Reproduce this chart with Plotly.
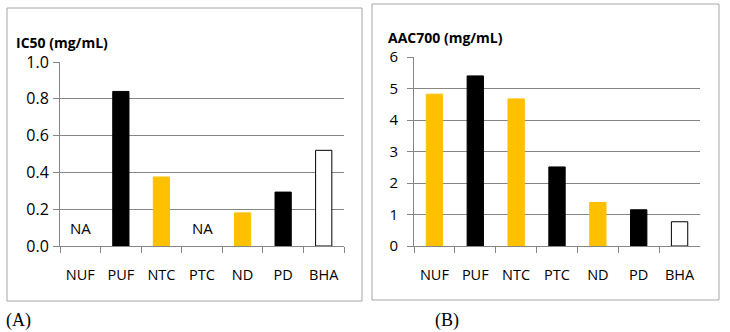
import plotly.graph_objects as go

categories = ["NUF", "PUF", "NTC", "PTC", "ND", "PD", "BHA"]
ic50_values = [None, 0.84, 0.375, None, 0.18, 0.293, 0.52]
ic50_na = ["NUF", "PTC"]
aac700_values = [4.82, 5.40, 4.67, 2.51, 1.38, 1.15, 0.77]
ic50_ticks = [0.0, 0.2, 0.4, 0.6, 0.8, 1.0]
aac_ticks = [0, 1, 2, 3, 4, 5, 6]

YEL = "#FFC000"
BLK = "#000000"
WHT = "#FFFFFF"
colors_a = [YEL, BLK, YEL, BLK, YEL, BLK, WHT]
colors_b = [YEL, BLK, YEL, BLK, YEL, BLK, WHT]
line_a = [c if c != WHT else BLK for c in colors_a]
line_b = [c if c != WHT else BLK for c in colors_b]

FONT = "Open Sans"
GRID = "#868686"

fig = go.Figure()
fig.add_trace(go.Bar(x=categories, y=ic50_values, marker=dict(color=colors_a, line=dict(color=line_a, width=1)),
                     xaxis="x", yaxis="y", showlegend=False))
fig.add_trace(go.Bar(x=categories, y=aac700_values, marker=dict(color=colors_b, line=dict(color=line_b, width=1)),
                     xaxis="x2", yaxis="y2", showlegend=False))

W, H = 730, 332
def px(x): return x / W
def py(y): return 1 - y / H

xfont = dict(tickfont=dict(family=FONT, size=14.5, color="#000"), automargin=False)
yfont = dict(tickfont=dict(family=FONT, size=16, color="#000"), automargin=False)
yfont2 = dict(tickfont=dict(family=FONT, size=15, color="#000"), automargin=False)
fig.update_layout(
    template="none",
    width=W, height=H, margin=dict(l=0, r=0, t=0, b=0),
    paper_bgcolor="white", plot_bgcolor="white", bargap=0.6,
    xaxis=dict(domain=[px(60), px(344)], anchor="y", type="category", tickson="boundaries",
               ticks="outside", ticklen=6, tickcolor=GRID, showline=True, linecolor=GRID,
               showgrid=False, ticklabelstandoff=16, **xfont),
    yaxis=dict(domain=[py(246), py(62)], anchor="x", range=[0, 1.0], tickvals=ic50_ticks,
               ticktext=[f"{v:.1f}" for v in ic50_ticks], ticks="outside", ticklen=6, tickcolor=GRID,
               showgrid=True, gridcolor=GRID, gridwidth=1, showline=True, linecolor=GRID,
               zeroline=False, ticklabelstandoff=1, **yfont),
    xaxis2=dict(domain=[px(414), px(700)], anchor="y2", type="category", tickson="boundaries",
                ticks="outside", ticklen=6, tickcolor=GRID, showline=True, linecolor=GRID,
                showgrid=False, ticklabelstandoff=16, **xfont),
    yaxis2=dict(domain=[py(246), py(57)], anchor="x2", range=[0, 6], tickvals=aac_ticks,
                ticks="outside", ticklen=6, tickcolor=GRID, showgrid=True, gridcolor=GRID,
                gridwidth=1, showline=True, linecolor=GRID, zeroline=False,
                ticklabelstandoff=6, **yfont2),
)

# panel borders
fig.add_shape(type="rect", xref="paper", yref="paper", x0=px(7), x1=px(362), y0=py(301), y1=py(8),
              line=dict(color="#A6A6A6", width=1))
fig.add_shape(type="rect", xref="paper", yref="paper", x0=px(372), x1=px(719), y0=py(300), y1=py(4),
              line=dict(color="#A6A6A6", width=1))

# titles
fig.add_annotation(text="<b>IC50 (mg/mL)</b>", xref="paper", yref="paper", x=px(14), y=py(42),
                   xanchor="left", yanchor="middle", showarrow=False,
                   font=dict(family=FONT, size=14, color="#000"))
fig.add_annotation(text="<b>AAC700 (mg/mL)</b>", xref="paper", yref="paper", x=px(386), y=py(38),
                   xanchor="left", yanchor="middle", showarrow=False,
                   font=dict(family=FONT, size=14, color="#000"))

for c in ic50_na:
    fig.add_annotation(text="NA", x=c, y=0, xref="x", yref="y", yanchor="bottom", yshift=6,
                       showarrow=False, font=dict(family=FONT, size=15, color="#000"))

fig.add_annotation(text="(A)", xref="paper", yref="paper", x=px(4), y=py(320), xanchor="left",
                   yanchor="middle", showarrow=False, font=dict(family="Liberation Serif", size=18, color="#000"))
fig.add_annotation(text="(B)", xref="paper", yref="paper", x=px(433), y=py(320), xanchor="left",
                   yanchor="middle", showarrow=False, font=dict(family="Liberation Serif", size=18, color="#000"))

fig.write_html("out.html")
